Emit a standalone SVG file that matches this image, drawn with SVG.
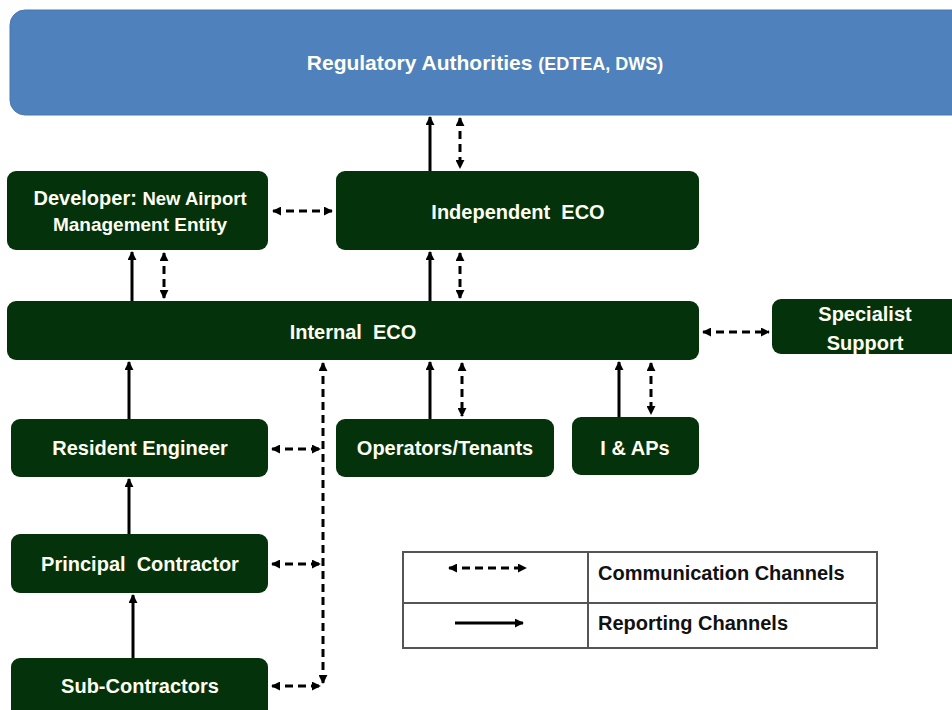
<svg xmlns="http://www.w3.org/2000/svg" width="952" height="710" viewBox="0 0 952 710">
<defs>
<marker id="ah" viewBox="0 0 10 10" refX="9" refY="5" markerWidth="3" markerHeight="3" orient="auto-start-reverse" markerUnits="strokeWidth">
<path d="M0,0 L10,5 L0,10 z" fill="#000"/>
</marker>
<style>
.n{fill:#04320A;}
.t{font-family:"Liberation Sans",Arial,sans-serif;font-weight:bold;fill:#FFFFF2;text-anchor:middle;font-size:20px;}
.s{font-size:18px;}
.r{stroke:#000;stroke-width:3;fill:none;}
.d{stroke:#000;stroke-width:3;fill:none;stroke-dasharray:8 5;}
.lg{font-family:"Liberation Sans",Arial,sans-serif;font-weight:bold;fill:#111;font-size:20px;}
</style>
</defs>
<rect width="952" height="710" fill="#fff"/>

<g id="regulatory">
<rect x="10" y="10" width="960" height="105" rx="15" fill="#4F81BD" stroke="#4A76AD" stroke-width="1"/>
<text class="t" x="485" y="70" style="font-size:21px">Regulatory Authorities <tspan class="s">(EDTEA, DWS)</tspan></text>
</g>

<g id="developer">
<rect class="n" x="7" y="171" width="261" height="79" rx="9"/>
<text class="t" x="140" y="205">Developer: <tspan style="font-size:18.5px">New Airport</tspan></text>
<text class="t" x="140" y="231" style="font-size:19px">Management Entity</text>
</g>

<g id="independent-eco">
<rect class="n" x="336" y="171" width="363" height="79" rx="9"/>
<text class="t" x="518" y="219" xml:space="preserve">Independent  ECO</text>
</g>

<g id="internal-eco">
<rect class="n" x="7" y="301" width="692" height="59" rx="9"/>
<text class="t" x="353" y="339" xml:space="preserve">Internal  ECO</text>
</g>

<g id="specialist-support">
<rect class="n" x="772" y="299" width="190" height="55" rx="9"/>
<text class="t" x="865" y="321">Specialist</text>
<text class="t" x="865" y="350">Support</text>
</g>

<g id="resident-engineer">
<rect class="n" x="11" y="419" width="257" height="58" rx="9"/>
<text class="t" x="140" y="455">Resident Engineer</text>
</g>

<g id="operators-tenants">
<rect class="n" x="336" y="419" width="218" height="58" rx="9"/>
<text class="t" x="445" y="455">Operators/Tenants</text>
</g>

<g id="i-and-aps">
<rect class="n" x="572" y="417" width="127" height="58" rx="9"/>
<text class="t" x="635" y="455">I &amp; APs</text>
</g>

<g id="principal-contractor">
<rect class="n" x="11" y="534" width="257" height="59" rx="9"/>
<text class="t" x="140" y="571" xml:space="preserve">Principal  Contractor</text>
</g>

<g id="sub-contractors">
<rect class="n" x="11" y="658" width="257" height="62" rx="9"/>
<text class="t" x="140" y="693">Sub-Contractors</text>
</g>

<g id="connectors">
<line class="r" x1="430" y1="171" x2="430" y2="117" marker-end="url(#ah)"/>
<line class="d" x1="460" y1="118" x2="460" y2="168" marker-start="url(#ah)" marker-end="url(#ah)"/>
<line class="d" x1="273" y1="211" x2="332" y2="211" marker-start="url(#ah)" marker-end="url(#ah)"/>
<line class="r" x1="132" y1="301" x2="132" y2="252" marker-end="url(#ah)"/>
<line class="d" x1="164" y1="253" x2="164" y2="298" marker-start="url(#ah)" marker-end="url(#ah)"/>
<line class="r" x1="430" y1="301" x2="430" y2="252" marker-end="url(#ah)"/>
<line class="d" x1="460" y1="253" x2="460" y2="298" marker-start="url(#ah)" marker-end="url(#ah)"/>
<line class="d" x1="703" y1="332" x2="769" y2="332" marker-start="url(#ah)" marker-end="url(#ah)"/>
<line class="r" x1="129" y1="419" x2="129" y2="362" marker-end="url(#ah)"/>
<line class="r" x1="430" y1="419" x2="430" y2="362" marker-end="url(#ah)"/>
<line class="d" x1="462" y1="363" x2="462" y2="416" marker-start="url(#ah)" marker-end="url(#ah)"/>
<line class="r" x1="619" y1="417" x2="619" y2="362" marker-end="url(#ah)"/>
<line class="d" x1="651" y1="363" x2="651" y2="414" marker-start="url(#ah)" marker-end="url(#ah)"/>
<line class="d" x1="323" y1="363" x2="323" y2="683" marker-start="url(#ah)" marker-end="url(#ah)"/>
<line class="d" x1="272" y1="449" x2="320" y2="449" marker-start="url(#ah)" marker-end="url(#ah)"/>
<line class="d" x1="272" y1="564" x2="320" y2="564" marker-start="url(#ah)" marker-end="url(#ah)"/>
<line class="d" x1="272" y1="686" x2="320" y2="686" marker-start="url(#ah)" marker-end="url(#ah)"/>
<line class="r" x1="129" y1="534" x2="129" y2="479" marker-end="url(#ah)"/>
<line class="r" x1="133" y1="658" x2="133" y2="595" marker-end="url(#ah)"/>
</g>

<g id="legend">
<rect x="403" y="552" width="474" height="96" fill="#fff" stroke="#555" stroke-width="2"/>
<line x1="588" y1="552" x2="588" y2="648" stroke="#555" stroke-width="2"/>
<line x1="403" y1="603" x2="877" y2="603" stroke="#555" stroke-width="2"/>
<line class="d" x1="449" y1="568" x2="526" y2="568" marker-start="url(#ah)" marker-end="url(#ah)"/>
<line class="r" x1="455" y1="623" x2="523" y2="623" marker-end="url(#ah)"/>
<text class="lg" x="598" y="580">Communication Channels</text>
<text class="lg" x="598" y="630">Reporting Channels</text>
</g>
</svg>
